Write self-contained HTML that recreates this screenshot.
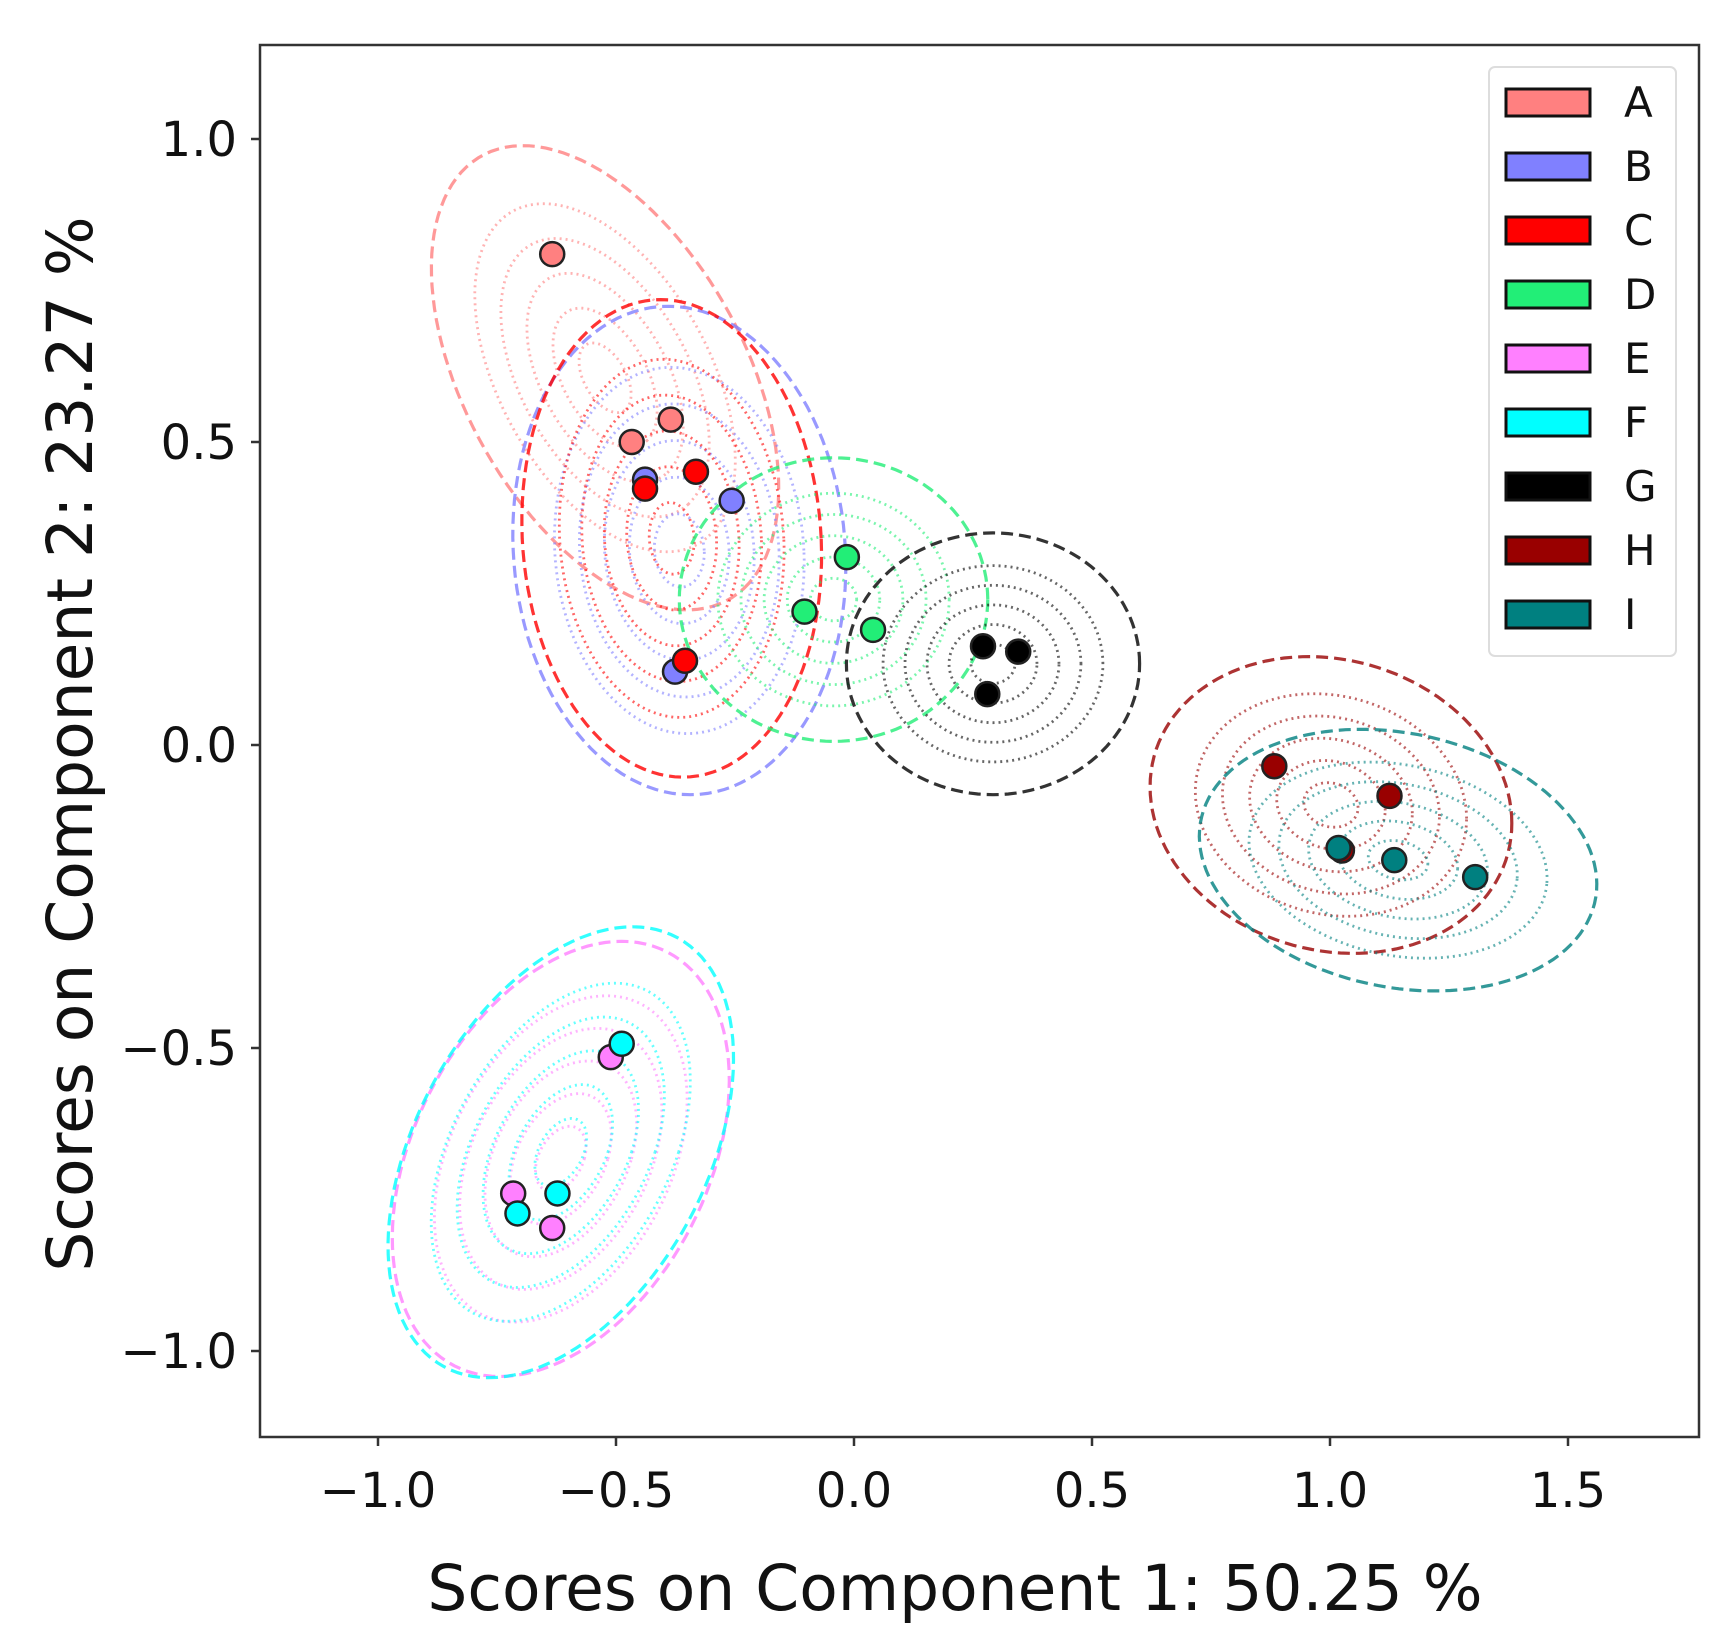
<!DOCTYPE html>
<html><head><meta charset="utf-8"><style>
body{margin:0;background:#fff}
svg{display:block;font-family:"DejaVu Sans","Liberation Sans",sans-serif}
</style></head><body>
<svg id="chart" width="1735" height="1636" viewBox="0 0 1735 1636" xmlns="http://www.w3.org/2000/svg">
<defs><clipPath id="clip"><rect x="260" y="45" width="1439" height="1392"/></clipPath></defs>
<rect x="0" y="0" width="1735" height="1636" fill="#fff"/>
<g id="ellipses" clip-path="url(#clip)"></g>
<g id="points" clip-path="url(#clip)"></g>
<rect x="260" y="45" width="1439" height="1392" fill="none" stroke="#333" stroke-width="2.5"/>
<g id="axes"></g>
<text x="955" y="1610" font-size="63" text-anchor="middle" fill="#111">Scores on Component 1: 50.25 %</text>
<text transform="translate(92,744) rotate(-90)" font-size="63" text-anchor="middle" fill="#111">Scores on Component 2: 23.27 %</text>
<g id="legend"></g>
</svg>
<script>
const groups = ["A","B","C","D","E","F","G","H","I"];
const colors = ["#ff8080","#8080ff","#ff0000","#22ee77","#ff80ff","#00ffff","#000000","#990000","#008080"];
const ptsX = [
 [-0.634,-0.467,-0.385],[-0.439,-0.257,-0.376],[-0.439,-0.332,-0.355],
 [-0.015,-0.104,0.040],[-0.511,-0.716,-0.634],[-0.488,-0.707,-0.623],
 [0.271,0.345,0.280],[0.883,1.125,1.025],[1.018,1.135,1.305]];
const ptsY = [
 [0.810,0.500,0.537],[0.438,0.403,0.121],[0.423,0.451,0.139],
 [0.310,0.220,0.190],[-0.515,-0.740,-0.797],[-0.493,-0.773,-0.740],
 [0.163,0.154,0.084],[-0.035,-0.084,-0.174],[-0.170,-0.190,-0.218]];
const ellC = [[-0.523,0.606],[-0.367,0.321],[-0.383,0.341],[-0.043,0.240],[-0.616,-0.683],[-0.616,-0.672],[0.292,0.134],[1.002,-0.099],[1.143,-0.19]];
const ellU = [[0.291,-0.348],[0.349,0],[0.314,0],[0.324,0],[0.33,0],[0.33,0],[0.308,0],[0.38,-0.03],[0.417,-0.05]];
const ellV = [[0.22,0.16],[-0.023,0.403],[-0.023,0.394],[0,0.234],[0.128,0.359],[0.151,0.372],[0,0.216],[0,0.243],[0.02,0.21]];
const innerScales = [0.15,0.3,0.45,0.6,0.75];
const xTicks = [-1.0,-0.5,0.0,0.5,1.0,1.5];
const yTicks = [-1.0,-0.5,0.0,0.5,1.0];
const xTickLabels = ["\u22121.0","\u22120.5","0.0","0.5","1.0","1.5"];
const yTickLabels = ["\u22121.0","\u22120.5","0.0","0.5","1.0"];

const NS="http://www.w3.org/2000/svg";
const X = v => 854 + v*476;
const Y = v => 745 - v*606;
function mk(tag, attrs, parent){const e=document.createElementNS(NS,tag);for(const k in attrs)e.setAttribute(k,attrs[k]);parent.appendChild(e);return e;}

const eg=document.getElementById('ellipses');
function ellPath(i,s){
  let d="";
  for(let k=0;k<=120;k++){const t=k/120*2*Math.PI;
    const x=ellC[i][0]+s*(ellU[i][0]*Math.cos(t)+ellV[i][0]*Math.sin(t));
    const y=ellC[i][1]+s*(ellU[i][1]*Math.cos(t)+ellV[i][1]*Math.sin(t));
    d+=(k?"L":"M")+X(x).toFixed(1)+" "+Y(y).toFixed(1);}
  return d+"Z";
}
groups.forEach((g,i)=>{
  innerScales.forEach(s=>{
    const p=mk('path',{d:ellPath(i,s),fill:'none',stroke:colors[i],'stroke-opacity':0.6,'stroke-width':2.8,'stroke-dasharray':'2 4'},eg);
    
    
  });
  const p=mk('path',{d:ellPath(i,1),fill:'none',stroke:colors[i],'stroke-opacity':0.8,'stroke-width':3.2,'stroke-dasharray':'12 6'},eg);
  
  
});
const pg=document.getElementById('points');
groups.forEach((g,i)=>{
  ptsX[i].forEach((x,j)=>{
    const c=mk('circle',{cx:X(x),cy:Y(ptsY[i][j]),r:12,fill:colors[i],stroke:'#222','stroke-width':2.5},pg);
    
    
  });
});
const ag=document.getElementById('axes');
xTicks.forEach((v,i)=>{
  const l=mk('line',{x1:X(v),x2:X(v),y1:1437,y2:1446,stroke:'#333','stroke-width':2.5},ag);
  
  
  const t=mk('text',{x:X(v),y:1507,'font-size':48,'text-anchor':'middle',fill:'#111'},ag);
  t.textContent=xTickLabels[i];
  
  
});
yTicks.forEach((v,i)=>{
  const l=mk('line',{x1:251,x2:260,y1:Y(v),y2:Y(v),stroke:'#333','stroke-width':2.5},ag);
  
  
  const t=mk('text',{x:237,y:Y(v)+17,'font-size':48,'text-anchor':'end',fill:'#111'},ag);
  t.textContent=yTickLabels[i];
  
  
});
const lg=document.getElementById('legend');
const box=mk('rect',{x:1489,y:67,width:187,height:589,rx:6,fill:'#fff',stroke:'#ddd','stroke-width':2},lg);


groups.forEach((g,i)=>{
  const y=102+i*64;
  const r=mk('rect',{x:1506,y:y-13,width:84,height:27,fill:colors[i],stroke:'#111','stroke-width':3},lg);
  
  
  const t=mk('text',{x:1624,y:y+15,'font-size':42,fill:'#111'},lg);
  t.textContent=g;
  
  
});
</script>
</body></html>
